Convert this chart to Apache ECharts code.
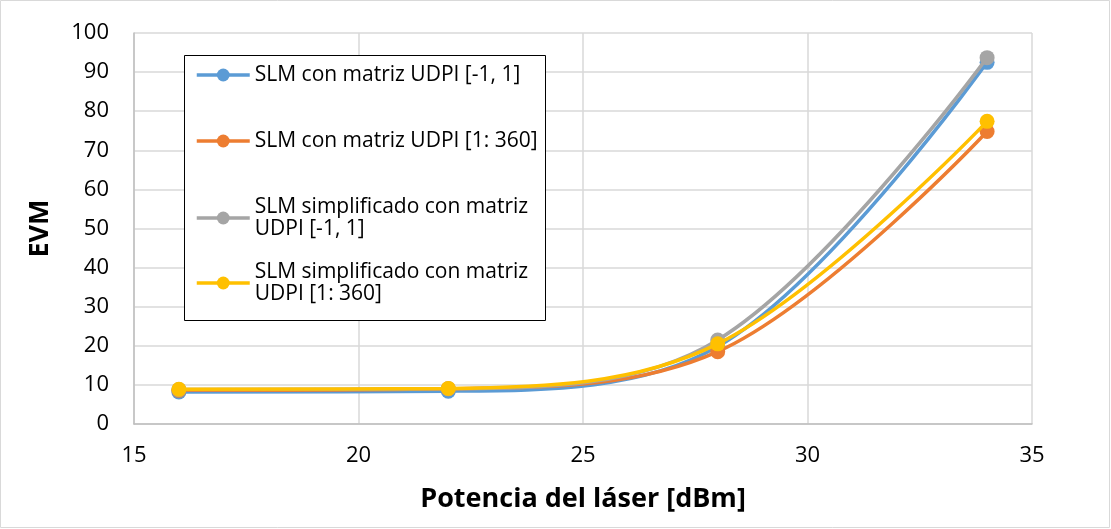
<!DOCTYPE html>
<html><head><meta charset="utf-8">
<script src="https://cdn.jsdelivr.net/npm/echarts@6/dist/echarts.min.js"></script>
<style>html,body{margin:0;padding:0;background:#fff}#c{width:1111px;height:529px}</style>
</head><body><div id="c"></div>
<script>
const xValues = [16, 22, 28, 34];
const seriesNames = [
  'SLM con matriz UDPI [-1, 1]',
  'SLM con matriz UDPI [1: 360]',
  'SLM simplificado con matriz UDPI [-1, 1]',
  'SLM simplificado con matriz UDPI [1: 360]'
];
const blueVals = [8.2, 8.4, 19.8, 92.5];
const orangeVals = [8.6, 9.0, 18.5, 74.8];
const grayVals = [8.8, 9.0, 21.5, 93.7];
const yellowVals = [8.9, 9.1, 20.5, 77.4];
const colors = ['#5B9BD5', '#ED7D31', '#A5A5A5', '#FFC000'];
const legendLabels = [
  'SLM con matriz UDPI [-1, 1]',
  'SLM con matriz UDPI [1: 360]',
  'SLM simplificado con matriz\nUDPI [-1, 1]',
  'SLM simplificado con matriz\nUDPI [1: 360]'
];
const allVals = [blueVals, orangeVals, grayVals, yellowVals];
const FONT = '"Open Sans", sans-serif';

const chart = echarts.init(document.getElementById('c'));
const legendTops = [64, 130, 196, 261];
const legends = seriesNames.map((n, i) => ({
  data: [n], left: 195, top: legendTops[i], orient: 'vertical', z: 20,
  itemWidth: 53, itemHeight: 16, padding: 0, selectedMode: false,
  lineStyle: {width: 3.5, color: colors[i]},
  formatter: () => legendLabels[i],
  textStyle: {fontFamily: FONT, fontSize: 21, color: '#000', lineHeight: 22}
}));
chart.setOption({
  animation: false,
  graphic: [
    {type: 'rect', shape: {x: 0.5, y: 0.5, width: 1109, height: 527}, style: {fill: 'none', stroke: '#D9D9D9', lineWidth: 1}, z: -1},
    {type: 'rect', shape: {x: 184.5, y: 55.5, width: 361, height: 265}, style: {fill: '#fff', stroke: '#000', lineWidth: 1}, z: 10}
  ],
  legend: legends,
  grid: {left: 134, right: 79, top: 33, bottom: 105},
  xAxis: {
    type: 'value', min: 15, max: 35, interval: 5,
    name: 'Potencia del láser [dBm]', nameLocation: 'middle', nameGap: 62,
    nameTextStyle: {fontFamily: FONT, fontSize: 27, fontWeight: 'bold', color: '#000'},
    axisLine: {lineStyle: {color: '#BFBFBF', width: 1.5}},
    axisTick: {show: false},
    axisLabel: {fontFamily: FONT, fontSize: 22, color: '#000', margin: 21},
    splitLine: {show: true, lineStyle: {color: '#D9D9D9', width: 1.5}}
  },
  yAxis: {
    type: 'value', min: 0, max: 100, interval: 10,
    name: 'EVM', nameLocation: 'middle', nameGap: 80, nameRotate: 90,
    nameTextStyle: {fontFamily: FONT, fontSize: 27, fontWeight: 'bold', color: '#000'},
    axisLine: {show: true, lineStyle: {color: '#BFBFBF', width: 1.5}},
    axisTick: {show: false},
    axisLabel: {fontFamily: FONT, fontSize: 22, color: '#000', margin: 25},
    splitLine: {show: true, lineStyle: {color: '#D9D9D9', width: 1.5}}
  },
  series: seriesNames.map((n, i) => ({
    name: n, type: 'line', smooth: 0.35,
    data: xValues.map((x, j) => [x, allVals[i][j]]),
    symbol: 'circle', symbolSize: 15,
    lineStyle: {color: colors[i], width: 3.5},
    itemStyle: {color: colors[i]},
    z: 2 + i
  }))
});
</script></body></html>
